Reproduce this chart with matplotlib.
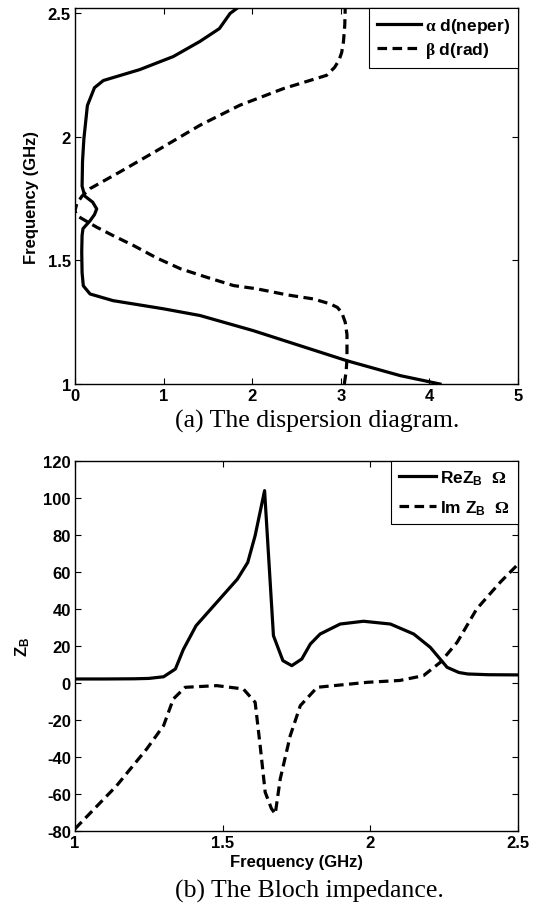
import matplotlib
matplotlib.use("Agg")
import matplotlib.pyplot as plt

# ---- DATA ----
# (a) dispersion diagram: frequency (GHz) vs alpha*d and beta*d
freq_alpha = [1.0, 1.034, 1.094, 1.155, 1.216, 1.277, 1.304, 1.337, 1.364, 1.397,
              1.45, 1.534, 1.60, 1.628, 1.66, 1.685, 1.708, 1.735, 1.76, 1.80,
              1.90, 1.99, 2.126, 2.198, 2.227, 2.271, 2.324, 2.385, 2.437, 2.498, 2.522]
alpha_d = [4.12, 3.67, 3.07, 2.54, 2.01, 1.41, 1.0, 0.43, 0.17, 0.094,
           0.08, 0.076, 0.08, 0.09, 0.17, 0.22, 0.245, 0.2, 0.11, 0.08,
           0.085, 0.10, 0.14, 0.22, 0.32, 0.73, 1.11, 1.41, 1.63, 1.75, 1.84]

freq_beta = [1.0, 1.05, 1.10, 1.20, 1.25, 1.29, 1.31, 1.324, 1.344, 1.36,
             1.385, 1.398, 1.43, 1.466, 1.51, 1.56, 1.60, 1.634, 1.66, 1.681,
             1.70, 1.729, 1.76, 1.79, 1.858, 1.951, 2.046, 2.127, 2.194, 2.248,
             2.28, 2.309, 2.34, 2.383, 2.45, 2.522]
beta_d = [3.04, 3.06, 3.07, 3.07, 3.05, 3.01, 2.96, 2.88, 2.69, 2.4,
          2.05, 1.79, 1.5, 1.19, 0.92, 0.66, 0.43, 0.245, 0.12, 0.02,
          0.0, 0.02, 0.08, 0.17, 0.51, 0.96, 1.41, 1.86, 2.35, 2.84,
          2.93, 2.98, 3.01, 3.03, 3.045, 3.05]

# (b) Bloch impedance
freq_re = [1.0, 1.1, 1.2, 1.25, 1.30, 1.34, 1.367, 1.41, 1.47, 1.55,
           1.585, 1.61, 1.642, 1.672, 1.704, 1.734, 1.768, 1.797, 1.83, 1.898,
           1.977, 2.068, 2.147, 2.203, 2.26, 2.30, 2.33, 2.4, 2.5]
re_zb = [2, 2, 2.1, 2.3, 3.2, 7.4, 18, 30.8, 41.6, 56,
         65, 79.5, 103.8, 25.4, 11.9, 9.2, 12.8, 20.9, 26.3, 31.7,
         33.2, 31.7, 26.3, 19.1, 8.3, 5.5, 4.7, 4.3, 4.2]

freq_im = [1.0, 1.141, 1.243, 1.30, 1.333, 1.373, 1.48, 1.57, 1.61, 1.627,
           1.644, 1.665, 1.678, 1.695, 1.729, 1.763, 1.82, 1.99, 2.10, 2.18,
           2.237, 2.294, 2.36, 2.44, 2.5]
im_zb = [-79, -55.7, -35.8, -23.2, -8.8, -2.5, -1.6, -3.4, -10.6, -34,
         -59.2, -68, -71, -52, -28.6, -12.4, -2.5, 0.2, 1.2, 3.8,
         11, 21.8, 39.8, 54.3, 64]

# ---- STYLE ----
plt.rcParams['font.family'] = ['Liberation Sans', 'DejaVu Sans']
plt.rcParams['font.weight'] = 'bold'
plt.rcParams['font.size'] = 12
plt.rcParams['axes.unicode_minus'] = False
plt.rcParams['mathtext.fontset'] = 'custom'
plt.rcParams['mathtext.rm'] = 'Liberation Serif'
plt.rcParams['mathtext.it'] = 'Liberation Serif'
plt.rcParams['mathtext.bf'] = 'Liberation Sans:bold'

lw = 2.3
dash = (0, (3, 1.7))

fig = plt.figure(figsize=(5.33, 9.04), dpi=100)


def style_axes(ax):
    ax.tick_params(direction='in', top=True, right=True, length=4, width=0.8,
                   labelsize=12, pad=3)
    for s in ax.spines.values():
        s.set_linewidth(1.0)
    for lab in ax.get_xticklabels() + ax.get_yticklabels():
        lab.set_fontweight('bold')


# ---- (a) DISPERSION DIAGRAM ----
ax1 = fig.add_axes([0.1407, 0.5741, 0.8311, 0.4159])
ax1.plot(alpha_d, freq_alpha, color='black', lw=lw, label=r'$\alpha$ d(neper)')
ax1.plot(beta_d, freq_beta, color='black', lw=lw, linestyle=dash, label=r'$\beta$ d(rad)')
ax1.set_xlim(0, 5)
ax1.set_ylim(1, 2.52)
ax1.set_xticks([0, 1, 2, 3, 4, 5])
ax1.set_yticks([1, 1.5, 2, 2.5])
ax1.set_yticklabels(['1', '1.5', '2', '2.5'])
ax1.set_ylabel('Frequency (GHz)', fontweight='bold', labelpad=6)
style_axes(ax1)
leg1 = ax1.legend(loc='upper right', borderaxespad=0, fancybox=False,
                  edgecolor='black', handlelength=2.5, handletextpad=0.25,
                  borderpad=0.45, labelspacing=0.3, framealpha=1,
                  prop={'size': 12.5, 'weight': 'bold'})
leg1.get_frame().set_linewidth(0.8)

fig.text(175 / 533, 1 - 428 / 904, '(a) The dispersion diagram.',
         family='Liberation Serif', fontweight='normal', fontsize=18.5,
         ha='left', va='baseline')

# ---- (b) BLOCH IMPEDANCE ----
ax2 = fig.add_axes([0.1407, 0.08, 0.8311, 0.4093])
ax2.plot(freq_re, re_zb, color='black', lw=lw, label=r'ReZ$_\mathbf{B}$  $\Omega$')
ax2.plot(freq_im, im_zb, color='black', lw=lw, linestyle=dash,
         label=r'Im Z$_\mathbf{B}$  $\Omega$')
ax2.set_xlim(1, 2.5)
ax2.set_ylim(-80, 120)
ax2.set_xticks([1, 1.5, 2, 2.5])
ax2.set_xticklabels(['1', '1.5', '2', '2.5'])
ax2.set_yticks(range(-80, 121, 20))
ax2.set_xlabel('Frequency (GHz)', fontweight='bold', labelpad=3)
ax2.set_ylabel(r'Z$_\mathbf{B}$', fontweight='bold', labelpad=8)
style_axes(ax2)
leg2 = ax2.legend(loc='upper right', borderaxespad=0, fancybox=False,
                  edgecolor='black', handlelength=2.15, handletextpad=0.25,
                  borderpad=0.45, labelspacing=0.65, framealpha=1,
                  prop={'size': 12.5, 'weight': 'bold'})
leg2.get_frame().set_linewidth(0.8)

fig.text(175 / 533, 1 - 898 / 904, '(b) The Bloch impedance.',
         family='Liberation Serif', fontweight='normal', fontsize=18.5,
         ha='left', va='baseline')

fig.savefig('out.png', dpi=100)
